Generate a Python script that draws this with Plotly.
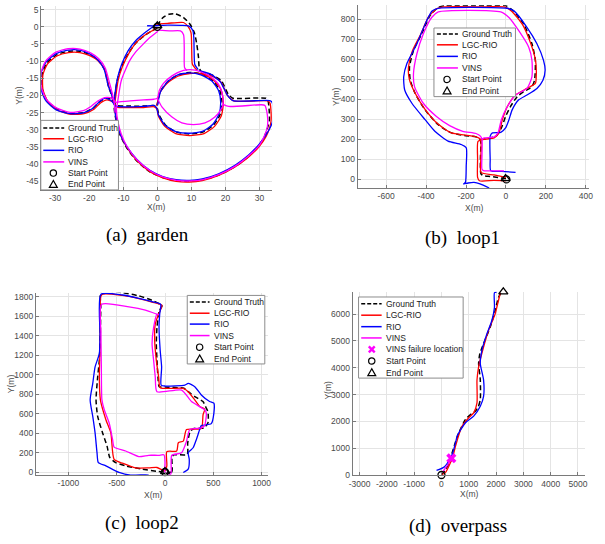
import plotly.graph_objects as go

W, H = 605, 544

# ---------------- data: (a) garden ----------------
GARDEN_GT = [
    [(0,-0.3),(-3.4,-2.3),(-6.3,-4.7),(-8.7,-8.1),(-10.6,-11.9),(-11.8,-15.7),(-12.4,-19.6),(-12.7,-22.5),(-12.6,-24.4),(-12.1,-27.3),(-11.1,-31.1),(-9.2,-34.9),(-6.3,-38.8),(-2.4,-42.1),(1.4,-43.8),(5.3,-44.8),(9.2,-45),(13,-44.6),(17.9,-43.2),(22.7,-40.8),(26.6,-37.9),(29.5,-35),(31.4,-32.1),(32.4,-29.3),(32.9,-27.3),(32.9,-25.3),(32.5,-21.5),(31.9,-20.8),(22.2,-20.8),(20.8,-19.6),(18.8,-15.7),(16,-14),(13,-13.3)],
    [(-13,-21.8),(-13.6,-19.5),(-14.3,-17.5),(-15.5,-12.4),(-17.5,-9.6),(-19.8,-8.1),(-22.7,-7.1),(-26.1,-7.1),(-29.5,-8.1),(-32.4,-10.5),(-33.8,-13.8),(-33.8,-18.1),(-32.4,-21.5),(-29.5,-23.9),(-25.6,-25.1),(-21.7,-25),(-18.8,-23.6),(-16.9,-21.8),(-15,-20.8),(-13.2,-21.3),(-12,-22.9),(-8,-23.1),(-4,-23.1),(-0.8,-23),(0,-23.8),(0.4,-25.5),(2.3,-28.5),(5.4,-30.6),(9.4,-31.2),(13.5,-30.6),(16.5,-28.6),(18.4,-25.6),(19,-22),(18.3,-18.5),(16.2,-15.6),(13,-13.8),(9.5,-13.3),(6,-14),(3,-16),(0.8,-19),(0,-22.5),(-0.3,-23.3)],
    [(0,0.3),(1.45,2.5),(3.4,3.65),(5.3,3.75),(7.7,2.7),(9.7,0.6),(10.9,-1.8),(11.6,-5.2),(12.1,-9.0),(12.3,-11.9),(13,-13.3)],
]
GARDEN_LGC = [
    [(-0.3,-0.5),(-3.2,-2.1),(-6.0,-4.4),(-8.4,-7.8),(-10.3,-11.7),(-11.5,-15.5),(-12.1,-19.5),(-12.5,-22.5),(-12.4,-24.5),(-11.9,-27.5),(-10.9,-31.2),(-9,-35),(-6.1,-38.9),(-2.2,-42.2),(1.6,-44),(5.5,-45),(9.4,-45.2),(13.2,-44.8),(18,-43.3),(22.8,-40.8),(26.8,-37.9),(29.8,-35),(31.9,-32),(33,-29.3),(33.4,-27.3),(33.4,-25),(33.1,-22.3),(32.4,-21.6),(22.4,-21.6),(20.6,-20),(18.6,-16),(15.8,-14.3),(12.5,-13.6)],
    [(-12.8,-22),(-13.4,-19.6),(-14.2,-17.5),(-15.4,-12.6),(-17.4,-9.9),(-19.8,-8.4),(-22.7,-7.5),(-26.1,-7.5),(-29.5,-8.5),(-32.3,-10.9),(-33.6,-14),(-33.6,-18.2),(-32.2,-21.7),(-29.3,-24.3),(-25.4,-25.5),(-21.5,-25.3),(-18.6,-24),(-16.7,-22.2),(-14.8,-21.3),(-13,-21.9),(-11.8,-23.4),(-8,-23.5),(-4,-23.5),(-0.9,-23.3),(-0.1,-24),(0.3,-26),(2.2,-29),(5.4,-31.1),(9.5,-31.7),(13.7,-31.1),(16.8,-29),(18.8,-25.9),(19.4,-22),(18.7,-18.3),(16.4,-15.4),(13,-13.7),(9.5,-13.6),(6,-14.4),(2.8,-16.5),(0.6,-19.5),(-0.1,-23)],
    [(-0.5,0.8),(3,1.0),(7.7,1.25),(9,0.1),(9.9,-1.8),(10.1,-7.1),(10.3,-10.9),(11.6,-12.6)],
]
GARDEN_RIO = [
    [(-0.5,0.6),(-3.5,-1.6),(-6.3,-4.0),(-8.6,-7),(-10.3,-10.5),(-11.6,-14.5),(-12.3,-18.5),(-12.6,-22),(-12.4,-25),(-11.8,-28.3),(-10.8,-31.5),(-8.9,-35),(-6,-38.6),(-2.2,-41.8),(1.6,-43.6),(5.5,-44.5),(9.4,-44.7),(13.2,-44.3),(18,-42.8),(22.8,-40.3),(26.8,-37.3),(29.8,-34.3),(31.9,-31.5),(33.4,-28.8),(34,-26.8),(34,-24),(33.7,-22),(33,-21.5),(22.2,-21.5),(20.5,-19.8),(18.5,-16),(15.6,-13.8),(12.2,-12.8)],
    [(-12.9,-21.5),(-13.6,-19.3),(-14.4,-17.2),(-15.7,-12.2),(-17.7,-9.4),(-20,-7.8),(-22.8,-6.8),(-26.2,-6.8),(-29.7,-7.8),(-32.7,-10.3),(-34.2,-13.7),(-34.2,-18.1),(-32.7,-21.6),(-29.7,-24.2),(-25.7,-25.3),(-21.8,-25.1),(-18.9,-23.7),(-17,-21.8),(-15.2,-20.8),(-13.4,-21.6),(-12.2,-23.1),(-8,-23.3),(-4,-23.2),(-1,-22.9),(-0.2,-23.6),(0.3,-25.6),(2.2,-28.6),(5.4,-30.5),(9.4,-31),(13.4,-30.4),(16.3,-28.4),(18.1,-25.4),(18.6,-22),(18,-18.6),(16,-15.8),(12.8,-14),(9.5,-13.4),(6,-14),(3,-16),(0.9,-19),(0.1,-22.8)],
    [(-3,0.3),(-0.5,0.3),(3,0.5),(7,0.4),(9.3,0.2),(10.4,-1),(10.7,-3),(10.8,-7),(11,-11),(12,-12.5)],
]
GARDEN_VINS = [
    [(0.2,-1.3),(-2,-3),(-4.3,-5.2),(-6.5,-7.5),(-8.2,-10),(-10.6,-15.7),(-11.6,-21.5),(-12,-24),(-11.6,-27.5),(-10.6,-31.2),(-8.8,-35),(-5.9,-38.8),(-2,-42),(1.8,-43.8),(5.7,-44.7),(9.6,-44.9),(13.4,-44.5),(18.2,-43),(23,-40.5),(27,-37.4),(29.9,-34.6),(31.5,-31.6),(32.3,-29.2),(32.4,-26.8),(32.1,-24.5),(31.6,-22.9),(30.5,-22.7),(21,-23.2),(19.3,-22.6)],
    [(-12.2,-22),(-13.5,-20.7),(-15.5,-20.6),(-17.5,-21.6),(-19.5,-23.2),(-21.7,-24.4),(-25.6,-24.9),(-29.5,-23.7),(-32.5,-21.2),(-34,-17.8),(-34.2,-13.5),(-32.8,-10),(-29.8,-7.4),(-26.2,-6.4),(-22.7,-6.5),(-19.6,-7.6),(-17.2,-9.3),(-15.3,-12),(-14,-16.5),(-13.2,-19.5),(-12.6,-22.5),(-12.4,-25)],
    [(-12.2,-22),(-8,-21.6),(-4,-21.3),(-1,-21.1),(0,-20.8),(0.6,-18.5),(1.8,-16.5),(4.3,-14.3),(7.7,-12.7),(11.1,-12.6),(15,-14.1),(17.9,-16.6),(19.1,-19.6),(19.3,-22.5),(18.8,-23.9),(16.9,-26.3),(14,-28),(10.6,-28.5),(7.2,-28),(4.3,-26.3),(1.4,-23.4),(0,-20.8)],
    [(0.3,-1.0),(3.5,-1.2),(6.8,-1.2),(7.7,-2.3),(7.9,-6),(8.0,-11.9),(8.7,-12.7)],
]
GARDEN_START = (0, 0)
GARDEN_END = (0, 0.3)

# ---------------- data: (b) loop1 ----------------
LOOP1_GT = [[(0,3),(-40,10),(-80,15),(-117,20),(-126,30),(-128,100),(-128,195),(-150,212),(-208,219),(-273,232),(-339,273),(-405,347),(-455,430),(-479,495),(-483,561),(-463,643),(-422,726),(-381,816),(-339,858),(-306,867),(-100,867),(-2,867),(36,841),(89,775),(130,677),(147,594),(143,495),(130,463),(89,438),(56,413),(23,364),(-2,314),(-23,257),(-51,216),(-100,202),(-128,198)]]
LOOP1_LGC = [[(0,10),(-60,22),(-125,35),(-126,100),(-127,200),(-142,210),(-166,216),(-210,222),(-273,232),(-340,276),(-407,352),(-458,436),(-484,500),(-488,560),(-469,640),(-428,722),(-387,812),(-345,853),(-312,861),(-100,861),(-5,860),(30,838),(83,772),(125,675),(148,594),(152,528),(147,479),(105,454),(48,421),(7,364),(-18,298),(-35,232),(-59,207),(-117,199),(-140,190),(-142,100),(-142,10),(-133,-7),(-60,-5),(-2,-7)]]
LOOP1_RIO = [[(48,35),(-20,40),(-76,43),(-79,100),(-79,216),(-68,232),(-26,235),(-2,257),(15,298),(31,347),(64,397),(105,421),(155,454),(185,495),(196,545),(188,594),(155,677),(105,759),(40,841),(5,854),(-340,854),(-370,840),(-397,792),(-446,677),(-496,578),(-512,512),(-507,446),(-471,380),(-405,298),(-356,240),(-290,191),(-224,174),(-199,158),(-199,67),(-203,-15),(-212,-23),(-190,-18),(-160,-15),(-130,-22),(-84,-43)]]
LOOP1_VINS = [[(-10,43),(-60,43),(-109,43),(-120,51),(-120,120),(-120,199),(-128,216),(-150,229),(-216,240),(-282,268),(-348,314),(-414,380),(-458,463),(-463,528),(-446,627),(-414,726),(-372,808),(-339,836),(-26,836),(15,808),(64,742),(114,660),(130,594),(130,512),(105,454),(48,421),(7,364),(-23,298),(-40,232),(-59,212),(-109,207),(-120,199)]]
LOOP1_START = (2, 0)
LOOP1_END = (-2, 4)

# ---------------- data: (c) loop2 ----------------
LOOP2_GT = [[(0,5),(70,5),(72,150),(90,180),(230,185),(235,300),(260,420),(300,450),(400,455),(445,510),(445,620),(427,659),(393,726),(308,777),(240,827),(200,860),(0,875),(-60,878),(-73,979),(-83,1148),(-90,1317),(-83,1486),(-60,1655),(-32,1705),(-135,1763),(-271,1807),(-441,1841),(-663,1851),(-665,1700),(-670,1418),(-680,1148),(-697,979),(-714,743),(-697,574),(-646,405),(-600,270),(-571,152),(-510,101),(-407,68),(-237,34),(-66,10),(0,5)]]
LOOP2_LGC = [[(-2,17),(19,68),(19,213),(121,220),(138,304),(189,321),(223,439),(376,449),(394,591),(411,648),(359,675),(308,743),(240,827),(189,861),(-49,868),(-66,979),(-90,1148),(-107,1351),(-101,1520),(-66,1621),(-32,1712),(-135,1745),(-271,1780),(-441,1812),(-656,1820),(-670,1587),(-673,1250),(-680,979),(-669,743),(-612,540),(-561,405),(-527,135),(-441,95),(-305,47),(-169,47),(-83,51),(-2,17)]]
LOOP2_RIO = [[(189,0),(240,34),(251,135),(240,203),(291,253),(325,338),(359,439),(376,480),(479,500),(506,608),(506,709),(462,726),(376,794),(308,878),(240,912),(206,895),(2,885),(-40,895),(-35,1081),(-50,1250),(-62,1486),(-55,1621),(-45,1722),(-135,1749),(-271,1783),(-441,1817),(-663,1824),(-673,1418),(-680,1216),(-724,1081),(-748,912),(-775,743),(-748,574),(-724,405),(-704,203),(-690,101),(-612,68),(-476,0),(-357,-27),(-203,-24),(-169,-27)]]
LOOP2_VINS = [[(0,0),(60,-15),(63,100),(70,176),(172,203),(223,321),(257,439),(376,456),(410,480),(428,608),(411,642),(274,726),(172,844),(-83,827),(-101,979),(-118,1148),(-134,1317),(-118,1486),(-83,1621),(-66,1614),(-203,1662),(-373,1695),(-656,1722),(-663,1418),(-659,1081),(-653,743),(-629,642),(-578,507),(-543,338),(-527,260),(-407,220),(-271,162),(-169,176),(-66,176),(-10,180),(0,100),(0,0)]]
LOOP2_START = (0, 5)
LOOP2_END = (0, 10)

# ---------------- data: (d) overpass ----------------
OVER_GT = [[(0,0),(150,200),(300,500),(398,847),(520,1250),(639,1583),(880,2074),(1100,2280),(1241,2380),(1350,2550),(1422,2810),(1422,3546),(1361,4160),(1400,4500),(1542,4896),(1783,5509),(1964,6123),(2084,6613),(2181,6798)]]
OVER_LGC = [[(30,20),(157,110),(337,479),(398,601),(518,1092),(759,1828),(1000,2135),(1181,2319),(1301,2687),(1301,3546),(1361,4037),(1542,4773),(1723,5387),(1964,6000),(2084,6491),(2157,6798)]]
OVER_RIO = [[(-180,170),(96,294),(277,540),(398,785),(518,1215),(578,1460),(880,1951),(1181,2196),(1422,2564),(1542,2933),(1542,3546),(1422,4160),(1482,4650),(1663,5264),(1843,5755),(1940,6245),(1940,6798),(2024,6834)]]
OVER_VINS = [[(36,110),(217,356),(361,626)]]
OVER_FAIL = (361, 626)
OVER_START = (0, 0)
OVER_END = (2265, 6834)

LEGEND_LABELS = ["Ground Truth", "LGC-RIO", "RIO", "VINS", "Start Point", "End Point"]
LEGEND_LABELS_D = ["Ground Truth", "LGC-RIO", "RIO", "VINS", "VINS failure location", "Start Point", "End Point"]
CAPTIONS = ["(a)\u00a0\u00a0garden", "(b)\u00a0\u00a0loop1", "(c)\u00a0\u00a0loop2", "(d)\u00a0\u00a0overpass"]

GARDEN_XT = [-30, -20, -10, 0, 10, 20, 30]
GARDEN_YT = [5, 0, -5, -10, -15, -20, -25, -30, -35, -40, -45]
LOOP1_XT = [-600, -400, -200, 0, 200, 400]
LOOP1_YT = [0, 100, 200, 300, 400, 500, 600, 700, 800]
LOOP2_XT = [-1000, -500, 0, 500, 1000]
LOOP2_YT = [0, 200, 400, 600, 800, 1000, 1200, 1400, 1600, 1800]
OVER_XT = [-3000, -2000, -1000, 0, 1000, 2000, 3000, 4000, 5000]
OVER_YT = [0, 1000, 2000, 3000, 4000, 5000, 6000]

RED, BLUE, MAG = "#ff0000", "#0000ff", "#ff00ff"
FONT = "Liberation Sans, Arial, sans-serif"


def flat(segs):
    xs, ys = [], []
    for s in segs:
        for x, y in s:
            xs.append(x)
            ys.append(y)
        xs.append(None)
        ys.append(None)
    return xs, ys


def px(x, y):
    return x / W, 1 - y / H


fig = go.Figure()

panels = [
    dict(k="", gt=GARDEN_GT, lgc=GARDEN_LGC, rio=GARDEN_RIO, vins=GARDEN_VINS, start=GARDEN_START, end=GARDEN_END,
         box=(37.7, 271.7, 5, 191), xr=[-34.1, 33.7], yr=[-47.5, 6.07], xt=GARDEN_XT, yt=GARDEN_YT,
         xlab=(155, 208), ylab=(15, 95), cap=(145, 237)),
    dict(k="2", gt=LOOP1_GT, lgc=LOOP1_LGC, rio=LOOP1_RIO, vins=LOOP1_VINS, start=LOOP1_START, end=LOOP1_END,
         box=(358.3, 592.7, 4.3, 189.3), xr=[-743, 415], yr=[-44, 869], xt=LOOP1_XT, yt=LOOP1_YT,
         xlab=(476.7, 209), ylab=(336.5, 97), cap=(465, 240)),
    dict(k="3", gt=LOOP2_GT, lgc=LOOP2_LGC, rio=LOOP2_RIO, vins=LOOP2_VINS, start=LOOP2_START, end=LOOP2_END,
         box=(32.3, 267.7, 295, 479.3), xr=[-1337, 1068], yr=[-26, 1840], xt=LOOP2_XT, yt=LOOP2_YT,
         xlab=(151.7, 500), ylab=(6.5, 387), cap=(140, 528)),
    dict(k="4", gt=OVER_GT, lgc=OVER_LGC, rio=OVER_RIO, vins=OVER_VINS, start=OVER_START, end=OVER_END,
         box=(353.3, 588.3, 294, 479.7), xr=[-3253, 5239], yr=[-15, 6835], xt=OVER_XT, yt=OVER_YT,
         xlab=(471.7, 499), ylab=(328.3, 393), cap=(460, 531)),
]

annotations = []
shapes = []

for i, p in enumerate(panels):
    xa, ya = "x" + p["k"], "y" + p["k"]
    for segs, col, dash, w in [(p["gt"], "black", "5px,3px", 1.5), (p["lgc"], RED, "solid", 1.3),
                               (p["rio"], BLUE, "solid", 1.3), (p["vins"], MAG, "solid", 1.3)]:
        xs, ys = flat(segs)
        fig.add_trace(go.Scatter(x=xs, y=ys, mode="lines", xaxis=xa, yaxis=ya, showlegend=False,
                                 line=dict(color=col, width=w, dash=dash, shape="spline", smoothing=0.6),
                                 hoverinfo="skip"))
    if p["k"] == "4":
        fig.add_trace(go.Scatter(x=[OVER_FAIL[0]], y=[OVER_FAIL[1]], mode="markers", xaxis=xa, yaxis=ya,
                                 showlegend=False, cliponaxis=False,
                                 marker=dict(symbol="x", size=9, color=MAG, line=dict(width=0))))
    fig.add_trace(go.Scatter(x=[p["start"][0]], y=[p["start"][1]], mode="markers", xaxis=xa, yaxis=ya,
                             showlegend=False, cliponaxis=False,
                             marker=dict(symbol="circle-open", size=7, color="black", line=dict(width=1.3))))
    fig.add_trace(go.Scatter(x=[p["end"][0]], y=[p["end"][1]], mode="markers", xaxis=xa, yaxis=ya,
                             showlegend=False, cliponaxis=False,
                             marker=dict(symbol="triangle-up-open", size=8, color="black", line=dict(width=1.3))))

    x0, x1, y0, y1 = p["box"]
    axcommon = dict(showgrid=True, gridcolor="#e4e4e4", gridwidth=1, zeroline=False, showline=True,
                    linecolor="#7a7a7a", linewidth=1, ticks="inside", ticklen=3, tickcolor="#7a7a7a",
                    tickfont=dict(family=FONT, size=8.5, color="#4a4a4a"), mirror=False, fixedrange=True)
    fig.layout["xaxis" + p["k"]] = dict(domain=[x0 / W, x1 / W], range=p["xr"], anchor=ya,
                                        tickmode="array", tickvals=p["xt"], ticktext=[str(v) for v in p["xt"]],
                                        **axcommon)
    fig.layout["yaxis" + p["k"]] = dict(domain=[1 - y1 / H, 1 - y0 / H], range=p["yr"], anchor=xa,
                                        tickmode="array", tickvals=p["yt"], ticktext=[str(v) for v in p["yt"]],
                                        **axcommon)
    ax, ay = px(*p["xlab"])
    annotations.append(dict(x=ax, y=ay, xref="paper", yref="paper", text="X(m)", showarrow=False,
                            font=dict(family=FONT, size=8.5, color="#4a4a4a"), xanchor="center", yanchor="middle"))
    ax, ay = px(*p["ylab"])
    annotations.append(dict(x=ax, y=ay, xref="paper", yref="paper", text="Y(m)", showarrow=False, textangle=-90,
                            font=dict(family=FONT, size=8.5, color="#4a4a4a"), xanchor="center", yanchor="middle"))
    ax, ay = px(*p["cap"])
    annotations.append(dict(x=ax, y=ay, xref="paper", yref="paper", text=CAPTIONS[i], showarrow=False,
                            font=dict(family="Liberation Serif, Times New Roman, serif", size=19, color="black"),
                            xanchor="center", yanchor="middle"))

# ---------------- manual legends ----------------
legends = [
    dict(box=(37.3, 116, 120.7, 191), lx=(38.8, 61), mx=50, tx=62.5,
         rows=[128.3, 139.3, 151, 162.7, 174, 185.3], labels=LEGEND_LABELS),
    dict(box=(435.7, 518.3, 27.3, 96.7), lx=(437.7, 460), mx=449, tx=462,
         rows=[33.3, 44.3, 56, 67.7, 79.3, 90.7], labels=LEGEND_LABELS),
    dict(box=(185.7, 264.3, 297.7, 367), lx=(187.3, 208.3), mx=198.3, tx=210.5,
         rows=[304.3, 315.7, 326.7, 338.3, 350, 361.7], labels=LEGEND_LABELS),
    dict(box=(359.3, 465.3, 299.3, 381.3), lx=(361, 382.7), mx=372.7, tx=385,
         rows=[306, 317.7, 329.3, 340.7, 352.3, 364, 375.7], labels=LEGEND_LABELS_D),
]

for lg in legends:
    bx0, bx1, by0, by1 = lg["box"]
    a, b = px(bx0, by0)
    c, d = px(bx1, by1)
    shapes.append(dict(type="rect", xref="paper", yref="paper", x0=a, y0=d, x1=c, y1=b,
                       fillcolor="white", line=dict(color="#8c8c8c", width=1), layer="above"))
    for lab, ry in zip(lg["labels"], lg["rows"]):
        lx0, lx1 = lg["lx"]
        m = lg["mx"]
        if lab in ("Ground Truth", "LGC-RIO", "RIO", "VINS"):
            col = {"Ground Truth": "black", "LGC-RIO": RED, "RIO": BLUE, "VINS": MAG}[lab]
            dash = "4px,2px" if lab == "Ground Truth" else "solid"
            p0, q0 = px(lx0 + 1, ry)
            p1, q1 = px(lx1, ry)
            shapes.append(dict(type="line", xref="paper", yref="paper", x0=p0, y0=q0, x1=p1, y1=q1,
                               line=dict(color=col, width=1.5, dash=dash), layer="above"))
        elif lab == "Start Point":
            p0, q0 = px(m - 3.2, ry - 3.2)
            p1, q1 = px(m + 3.2, ry + 3.2)
            shapes.append(dict(type="circle", xref="paper", yref="paper", x0=p0, y0=q1, x1=p1, y1=q0,
                               line=dict(color="black", width=1.2), layer="above"))
        elif lab == "End Point":
            pts = [px(m, ry - 3.8), px(m - 4, ry + 3.2), px(m + 4, ry + 3.2)]
            path = "M {} {} L {} {} L {} {} Z".format(pts[0][0], pts[0][1], pts[1][0], pts[1][1], pts[2][0], pts[2][1])
            shapes.append(dict(type="path", xref="paper", yref="paper", path=path,
                               line=dict(color="black", width=1.2), layer="above"))
        else:
            for (u0, v0, u1, v1) in [(m - 3, ry - 3, m + 3, ry + 3), (m - 3, ry + 3, m + 3, ry - 3)]:
                p0, q0 = px(u0, v0)
                p1, q1 = px(u1, v1)
                shapes.append(dict(type="line", xref="paper", yref="paper", x0=p0, y0=q0, x1=p1, y1=q1,
                                   line=dict(color=MAG, width=2.4), layer="above"))
        tx, ty = px(lg["tx"], ry)
        annotations.append(dict(x=tx, y=ty, xref="paper", yref="paper", text=lab, showarrow=False,
                                font=dict(family=FONT, size=8.5, color="#1a1a1a"), xanchor="left", yanchor="middle"))

fig.update_layout(width=W, height=H, margin=dict(l=0, r=0, t=0, b=0), paper_bgcolor="white",
                  plot_bgcolor="white", showlegend=False, shapes=shapes, annotations=annotations)

fig.write_html("out.html")
